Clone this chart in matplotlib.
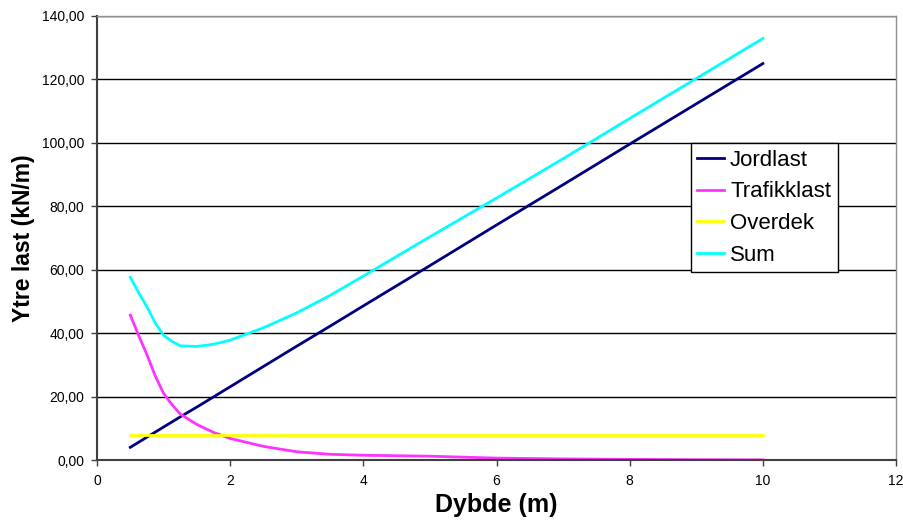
import numpy as np
import matplotlib
matplotlib.use("Agg")
import matplotlib.pyplot as plt
from matplotlib.ticker import FuncFormatter

plt.rcParams['font.family'] = ['Liberation Sans', 'DejaVu Sans']

# dybde (m)
dybde = [0.5, 0.625, 0.75, 0.875, 1.0, 1.125, 1.25, 1.5, 1.75, 2.0, 2.5, 3.0,
         3.5, 4.0, 5.0, 6.0, 7.0, 8.0, 9.0, 10.0]

jordlast = [4.0, 5.6, 7.2, 8.8, 10.4, 12.0, 13.6, 16.7, 19.9, 23.1, 29.5, 35.9,
            42.2, 48.6, 61.3, 74.1, 86.8, 99.6, 112.3, 125.0]
trafikklast = [45.7, 39.3, 33.2, 26.5, 21.0, 17.5, 14.5, 11.2, 8.7, 6.8, 4.3, 2.6,
               1.8, 1.5, 1.2, 0.6, 0.35, 0.2, 0.1, 0.05]
overdek = [7.9] * len(dybde)
sum_last = [57.6, 52.8, 48.3, 43.2, 39.3, 37.4, 36.0, 35.8, 36.5, 37.8, 41.7, 46.4,
            51.9, 58.0, 70.4, 82.6, 95.0, 107.7, 120.3, 132.9]

fig = plt.figure(figsize=(9.04, 5.29), dpi=100)
ax = fig.add_axes([0.1073, 0.1304, 0.8839, 0.8394])

lw = 2.0
ax.plot(dybde, jordlast, color="#000080", lw=lw, label="Jordlast")
ax.plot(dybde, trafikklast, color="#FF33FF", lw=lw, label="Trafikklast")
ax.plot(dybde, overdek, color="#FFFF00", lw=lw, label="Overdek")
ax.plot(dybde, sum_last, color="#00FFFF", lw=lw, label="Sum")

ax.set_xlim(0, 12)
ax.set_ylim(0, 140)
ax.set_xticks(range(0, 13, 2))
ax.set_yticks(np.arange(0, 141, 20))
ax.yaxis.set_major_formatter(FuncFormatter(lambda v, p: f"{v:.2f}".replace(".", ",")))
ax.yaxis.grid(True, color="black", lw=1)
ax.set_axisbelow(True)

ax.tick_params(direction="out", length=4, width=1, labelsize=10, colors="#404040",
               labelcolor="black")
ax.tick_params(axis="x", pad=6)
ax.tick_params(axis="y", pad=5)
for s in ["left", "bottom"]:
    ax.spines[s].set_color("#404040")
    ax.spines[s].set_linewidth(1.5)
for s in ["top", "right"]:
    ax.spines[s].set_color("#909090")
    ax.spines[s].set_linewidth(1)

ax.set_xlabel("Dybde (m)", fontsize=18, fontweight="bold", labelpad=4)
ax.set_ylabel("Ytre last (kN/m)", fontsize=16.5, fontweight="bold", labelpad=5)

leg = ax.legend(loc="upper left", bbox_to_anchor=(0.743, 0.714), fontsize=16,
                frameon=True, fancybox=False, framealpha=1, edgecolor="black",
                handlelength=1.2, handletextpad=0.27, borderpad=0.3,
                labelspacing=0.48, borderaxespad=0)
leg.get_frame().set_linewidth(1)

fig.savefig("out.png", dpi=100)
